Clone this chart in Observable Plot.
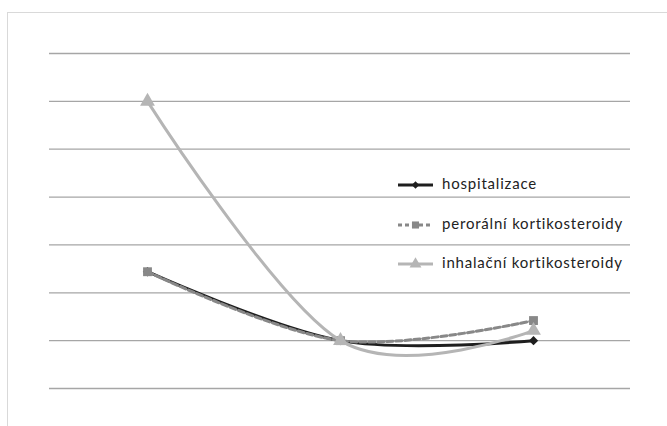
<!DOCTYPE html>
<html>
<head>
<meta charset="utf-8">
<script src="https://cdn.jsdelivr.net/npm/d3@7"></script>
<script src="https://cdn.jsdelivr.net/npm/@observablehq/plot@0.6"></script>
<style>
  html, body { margin: 0; padding: 0; background: #fff; overflow: hidden; }
  #wrap { position: relative; width: 667px; height: 426px; overflow: hidden; }
  #frame { position: absolute; left: 7px; top: 12px; width: 720px; height: 500px; border: 1px solid #d9d9d9; box-sizing: border-box; }
  #chart { position: absolute; left: 0; top: 0; }
  #legend { position: absolute; left: 397px; top: 174px; font-family: Lato, "Open Sans", sans-serif; font-size: 15px; letter-spacing: 0.8px; color: #222; }
  .item { height: 39.5px; display: flex; align-items: flex-start; }
  .item svg { margin-right: 8px; margin-top: 3px; }
</style>
</head>
<body>
<div id="wrap">
  <div id="frame"></div>
  <div id="chart"></div>
  <div id="legend"></div>
</div>
<script>
const categories = ["A", "B", "C"];
const hospitalizace = [2.44, 1.0, 1.0];
const peroralni = [2.44, 1.0, 1.42];
const inhalacni = [6.0, 1.0, 1.21];
const gridTicks = [0, 1, 2, 3, 4, 5, 6, 7];

const seriesNames = ["hospitalizace", "perorální kortikosteroidy", "inhalační kortikosteroidy"];
const seriesValues = [hospitalizace, peroralni, inhalacni];
const styles = [
  {stroke: "#1e1e1e", dash: null, legendDash: null, symbol: "diamond2", r: 4.2},
  {stroke: "#888888", dash: "6,3", legendDash: "4,3", symbol: "square", r: 5},
  {stroke: "#b5b5b5", dash: null, legendDash: null, symbol: "triangle", r: 5.5}
];

const marks = [
  Plot.ruleY(gridTicks, {stroke: "#a6a6a6", strokeWidth: 1.3, strokeOpacity: 1})
];
seriesValues.forEach((vals, i) => {
  const data = categories.map((c, j) => ({c, v: vals[j]}));
  const s = styles[i];
  marks.push(Plot.line(data, {x: "c", y: "v", curve: "cardinal", stroke: s.stroke, strokeWidth: 3, strokeDasharray: s.dash || undefined}));
  marks.push(Plot.dot(data, {x: "c", y: "v", symbol: s.symbol, r: s.r, fill: s.stroke, stroke: "none"}));
});

const chart = Plot.plot({
  width: 667,
  height: 426,
  marginLeft: 49,
  marginRight: 37,
  marginTop: 53,
  marginBottom: 38,
  x: {type: "point", domain: categories, padding: 0.5, axis: null},
  y: {domain: [0, 7], axis: null},
  style: {background: "transparent"},
  marks
});
document.getElementById("chart").append(chart);

const legend = document.getElementById("legend");
seriesNames.forEach((name, i) => {
  const s = styles[i];
  const item = document.createElement("div");
  item.className = "item";
  const svg = d3.create("svg").attr("width", 37).attr("height", 16);
  svg.append("line").attr("x1", 1).attr("x2", 36).attr("y1", 8).attr("y2", 8)
    .attr("stroke", s.stroke).attr("stroke-width", 3).attr("stroke-dasharray", s.legendDash);
  const rr = s.r * 0.8;
  svg.append("path").attr("transform", "translate(18.5,8)")
    .attr("d", d3.symbol(s.symbol === "diamond2" ? d3.symbolDiamond2 : s.symbol === "square" ? d3.symbolSquare : d3.symbolTriangle, rr * rr * Math.PI)())
    .attr("fill", s.stroke);
  item.append(svg.node());
  const span = document.createElement("span");
  span.textContent = name;
  item.append(span);
  legend.append(item);
});
</script>
</body>
</html>
